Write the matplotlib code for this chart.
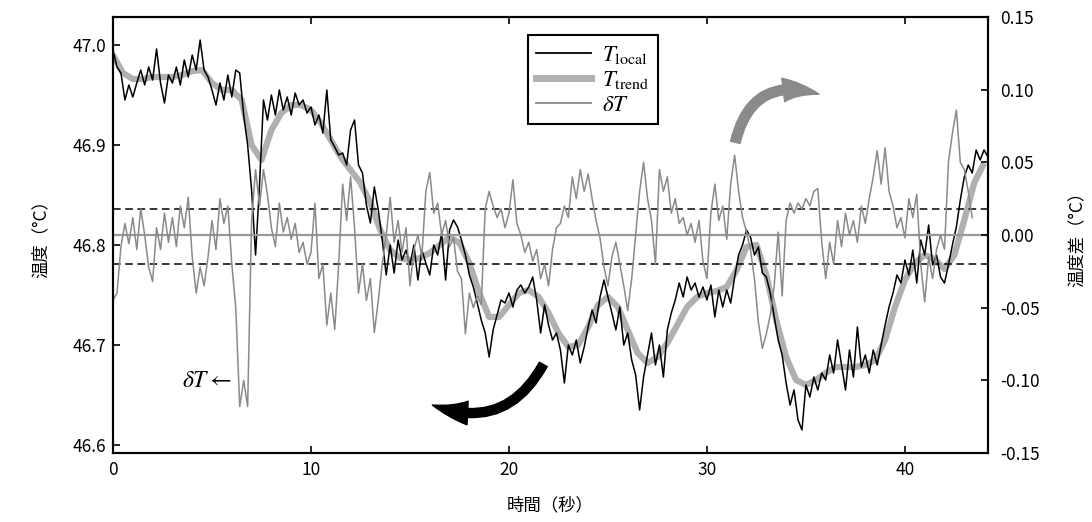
import numpy as np
import matplotlib
matplotlib.use("Agg")
import matplotlib.pyplot as plt
from matplotlib.patches import FancyArrowPatch

plt.rcParams['font.family'] = ['Noto Sans CJK JP', 'DejaVu Sans']
plt.rcParams['mathtext.fontset'] = 'stix'

# sampling step of the read-off series (s)
dt_local = 0.2
dt_trend = 0.5
dt_delta = 0.2

# local temperature (deg C), every 0.2 s from t = 0
T_local = [
    46.995, 46.978, 46.972, 46.945, 46.960, 46.948, 46.962, 46.975, 46.960, 46.978,
    46.965, 46.996, 46.962, 46.942, 46.970, 46.962, 46.978, 46.960, 46.985, 46.968,
    46.990, 46.975, 47.005, 46.975, 46.968, 46.955, 46.940, 46.962, 46.945, 46.970,
    46.948, 46.975, 46.972, 46.930, 46.900, 46.855, 46.790, 46.860, 46.945, 46.925,
    46.950, 46.930, 46.955, 46.935, 46.948, 46.930, 46.952, 46.940, 46.945, 46.932,
    46.938, 46.920, 46.930, 46.912, 46.955, 46.905, 46.898, 46.890, 46.892, 46.880,
    46.915, 46.925, 46.880, 46.872, 46.840, 46.822, 46.858, 46.835, 46.805, 46.770,
    46.800, 46.772, 46.805, 46.785, 46.795, 46.780, 46.800, 46.765, 46.795, 46.782,
    46.770, 46.800, 46.790, 46.812, 46.765, 46.815, 46.825, 46.818, 46.805, 46.790,
    46.770, 46.758, 46.742, 46.725, 46.712, 46.688, 46.715, 46.730, 46.745, 46.742,
    46.752, 46.738, 46.755, 46.760, 46.752, 46.758, 46.768, 46.745, 46.712, 46.740,
    46.720, 46.705, 46.712, 46.695, 46.662, 46.700, 46.690, 46.705, 46.682, 46.698,
    46.718, 46.735, 46.722, 46.748, 46.765, 46.748, 46.732, 46.715, 46.738, 46.700,
    46.712, 46.685, 46.670, 46.635, 46.668, 46.690, 46.712, 46.680, 46.700, 46.668,
    46.715, 46.732, 46.745, 46.762, 46.748, 46.768, 46.755, 46.762, 46.748, 46.758,
    46.745, 46.760, 46.728, 46.755, 46.738, 46.755, 46.742, 46.768, 46.790, 46.800,
    46.815, 46.808, 46.790, 46.798, 46.772, 46.768, 46.752, 46.728, 46.705, 46.690,
    46.662, 46.640, 46.655, 46.625, 46.615, 46.660, 46.648, 46.668, 46.655, 46.672,
    46.665, 46.690, 46.672, 46.705, 46.680, 46.655, 46.695, 46.668, 46.718, 46.678,
    46.690, 46.672, 46.695, 46.680, 46.700, 46.720, 46.738, 46.752, 46.770, 46.762,
    46.785, 46.770, 46.795, 46.762, 46.805, 46.790, 46.820, 46.780, 46.790, 46.768,
    46.762, 46.780, 46.800, 46.818, 46.845, 46.868, 46.880, 46.872, 46.895, 46.885,
    46.895, 46.888,
]

# trend temperature (deg C), every 0.5 s from t = 0
T_trend = [
    46.990, 46.972, 46.966, 46.966, 46.968, 46.968, 46.968, 46.970, 46.974, 46.975,
    46.962, 46.955, 46.955, 46.945, 46.900, 46.885, 46.915, 46.932, 46.940, 46.940,
    46.935, 46.922, 46.905, 46.888, 46.875, 46.862, 46.842, 46.815, 46.795, 46.787,
    46.785, 46.787, 46.792, 46.800, 46.808, 46.802, 46.782, 46.752, 46.728, 46.728,
    46.740, 46.752, 46.755, 46.748, 46.732, 46.712, 46.698, 46.700, 46.718, 46.740,
    46.748, 46.738, 46.715, 46.692, 46.682, 46.688, 46.702, 46.720, 46.738, 46.748,
    46.752, 46.754, 46.758, 46.775, 46.798, 46.800, 46.770, 46.725, 46.688, 46.665,
    46.660, 46.665, 46.672, 46.678, 46.678, 46.678, 46.680, 46.685, 46.705, 46.738,
    46.765, 46.782, 46.790, 46.786, 46.776, 46.790, 46.825, 46.862, 46.882,
]

# temperature difference (deg C), every 0.2 s from t = 0
dT = [
    -0.045, -0.040, -0.008, 0.008, -0.006, 0.012, -0.010, 0.018, 0.000, -0.022,
    -0.032, 0.005, -0.010, 0.015, -0.005, 0.012, -0.008, 0.020, 0.005, 0.026,
    -0.015, -0.040, -0.022, -0.035, -0.015, 0.010, -0.010, 0.025, 0.008, 0.020,
    -0.020, -0.050, -0.118, -0.100, -0.118, 0.010, 0.045, 0.020, 0.045, 0.028,
    0.005, -0.008, 0.022, 0.002, 0.012, -0.003, 0.008, -0.012, -0.005, -0.020,
    -0.012, 0.022, -0.030, -0.020, -0.062, -0.040, -0.065, -0.020, 0.035, 0.010,
    0.040, 0.005, -0.040, -0.020, -0.045, -0.030, -0.067, -0.045, -0.020, 0.000,
    0.026, -0.005, 0.010, -0.012, 0.005, -0.035, -0.010, 0.000, -0.015, 0.030,
    0.043, 0.015, 0.022, 0.000, 0.010, -0.008, -0.002, -0.025, -0.030, -0.068,
    -0.040, -0.050, -0.042, -0.048, 0.018, 0.030, 0.020, 0.012, 0.018, 0.005,
    0.015, 0.038, 0.008, 0.000, -0.012, -0.005, -0.018, -0.010, -0.030, -0.020,
    -0.035, -0.010, 0.005, 0.008, 0.020, 0.012, 0.040, 0.025, 0.045, 0.030,
    0.042, 0.025, 0.010, -0.002, -0.022, -0.035, -0.015, -0.005, -0.020, -0.035,
    -0.052, -0.030, 0.000, 0.030, 0.050, 0.025, 0.010, -0.020, 0.045, 0.030,
    0.040, 0.015, 0.025, 0.008, 0.012, 0.000, 0.008, -0.005, 0.010, -0.018,
    -0.030, 0.015, 0.035, 0.010, 0.020, -0.003, 0.035, 0.055, 0.030, 0.012,
    0.002, -0.010, -0.030, -0.060, -0.078, -0.068, -0.055, -0.035, 0.002, -0.042,
    0.010, 0.022, 0.015, 0.022, 0.018, 0.025, 0.020, 0.030, 0.032, -0.005,
    -0.030, -0.005, -0.020, 0.010, -0.008, 0.015, 0.000, 0.010, -0.005, 0.020,
    0.008, 0.025, 0.040, 0.058, 0.035, 0.060, 0.030, 0.020, 0.005, 0.012,
    -0.002, 0.025, 0.012, 0.028, -0.020, -0.046, -0.015, -0.030, -0.010, 0.000,
    -0.010, 0.050, 0.070, 0.086, 0.050, 0.045, 0.030, 0.012,
]

# threshold lines on the difference axis
band_hi = 0.018
band_lo = -0.020

t_local = np.arange(len(T_local)) * dt_local
t_trend = np.arange(len(T_trend)) * dt_trend
t_delta = np.arange(len(dT)) * dt_delta

fig = plt.figure(figsize=(10.92, 5.22), dpi=100)
ax = fig.add_axes([0.1035, 0.1322, 0.8013, 0.8352])
ax2 = ax.twinx()

ax.plot(t_trend, T_trend, color='#b0b0b0', lw=4.5, solid_capstyle='butt', zorder=2)
ax.plot(t_local, T_local, color='black', lw=1.1, zorder=3)

ax2.axhline(0.0, color='#999999', lw=1.6, zorder=1)
ax2.axhline(band_hi, color='black', lw=1.1, ls=(0, (5, 3)), zorder=1)
ax2.axhline(band_lo, color='black', lw=1.1, ls=(0, (5, 3)), zorder=1)
ax2.plot(t_delta, dT, color='#8a8a8a', lw=1.1, zorder=2)

ax.set_xlim(0, 44.2)
ax.set_ylim(46.592, 47.028)
ax2.set_ylim(-0.15, 0.15)
ax.set_xticks([0, 10, 20, 30, 40])
ax.set_yticks([46.6, 46.7, 46.8, 46.9, 47.0])
ax2.set_yticks([-0.15, -0.10, -0.05, 0.0, 0.05, 0.10, 0.15])
ax.yaxis.set_major_formatter(matplotlib.ticker.FormatStrFormatter('%.1f'))
ax2.yaxis.set_major_formatter(matplotlib.ticker.FormatStrFormatter('%.2f'))

ax.tick_params(axis='x', direction='in', length=5, width=1.2, top=True, labelsize=12.5, pad=6)
ax.tick_params(axis='y', direction='in', length=5, width=1.2, labelsize=12.5, pad=5)
ax2.tick_params(axis='y', direction='in', length=5, width=1.2, labelsize=12.5, pad=9)
for a in (ax, ax2):
    for s in a.spines.values():
        s.set_linewidth(1.5)

ax.set_xlabel('時間（秒）', fontsize=12.5, labelpad=12)
ax.set_ylabel('温度（°C）', fontsize=12.5, labelpad=16)
ax2.set_ylabel('温度差（°C）', fontsize=12.5, labelpad=20)

# annotations
ax.text(6.0, 46.664, r'$\delta T\leftarrow$', fontsize=17, ha='right', va='center')
ax.add_patch(FancyArrowPatch((21.8, 46.683), (16.0, 46.641),
                             connectionstyle='arc3,rad=-0.45',
                             arrowstyle='simple,head_length=2.6,head_width=1.7,tail_width=0.65',
                             mutation_scale=10, color='black', zorder=5))
ax.add_patch(FancyArrowPatch((31.4, 46.900), (35.8, 46.950),
                             connectionstyle='arc3,rad=-0.55',
                             arrowstyle='simple,head_length=2.6,head_width=1.7,tail_width=0.7',
                             mutation_scale=10, color='#8a8a8a', zorder=5))

h1, = ax2.plot([], [], color='black', lw=1.3)
h2, = ax2.plot([], [], color='#b0b0b0', lw=5)
h3, = ax2.plot([], [], color='#8a8a8a', lw=1.3)
leg = ax2.legend([h1, h2, h3], [r'$T_{\rm local}$', r'$T_{\rm trend}$', r'$\delta T$'],
                 loc='upper left', bbox_to_anchor=(0.474, 0.959), borderaxespad=0,
                 fontsize=16.5, handlelength=2.4, handletextpad=0.5, labelspacing=0.08,
                 borderpad=0.35, fancybox=False, framealpha=1)
leg.get_frame().set_edgecolor('black')
leg.get_frame().set_linewidth(1.5)

fig.savefig('out.png', dpi=100)
